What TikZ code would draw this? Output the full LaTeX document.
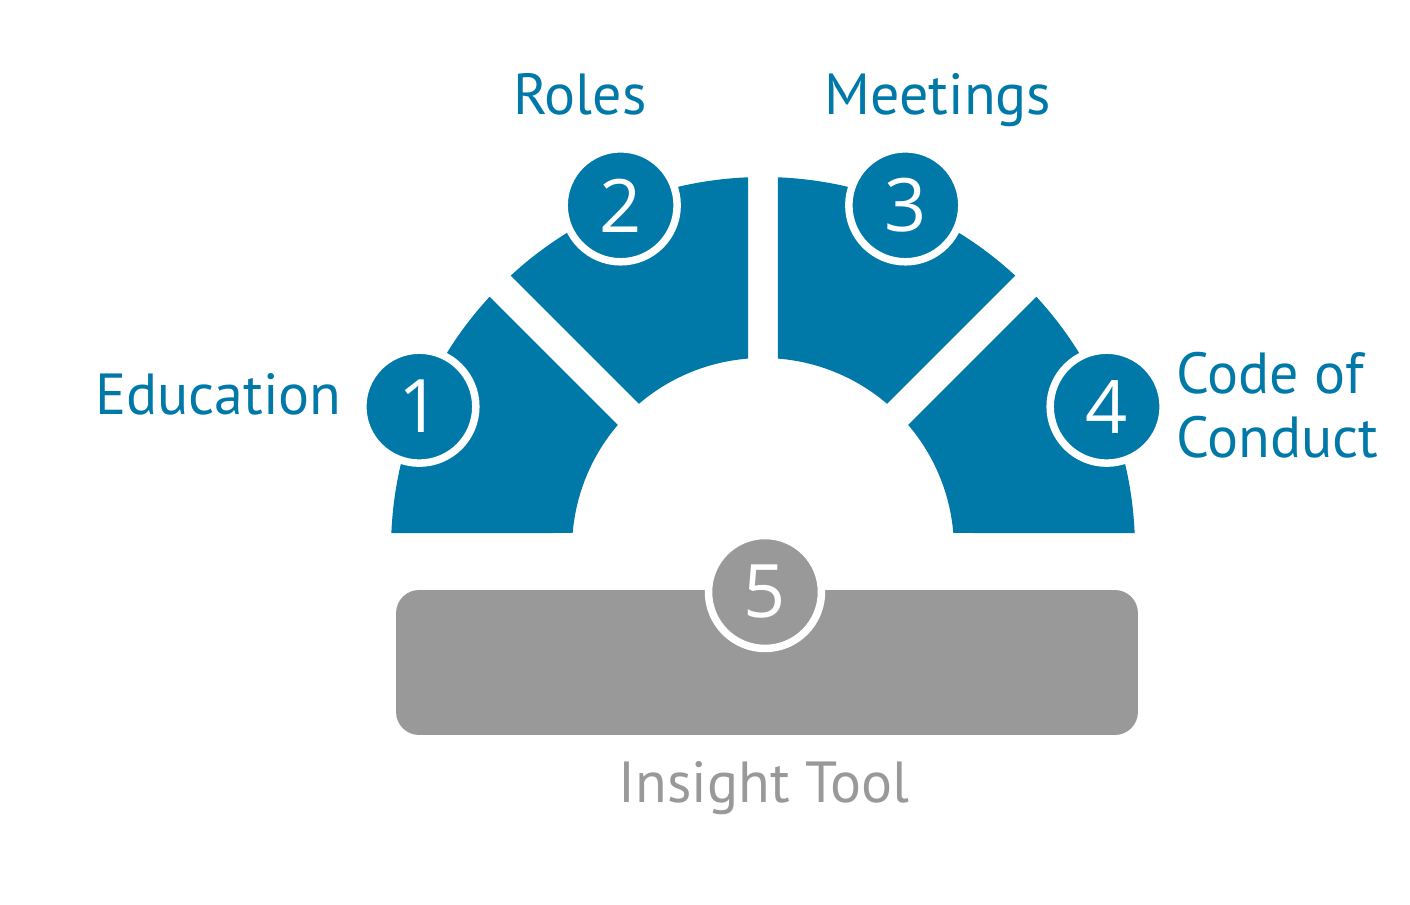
\documentclass[tikz,border=0pt]{standalone}
\usepackage{fontspec}
\setmainfont{PT Sans}
\newfontfamily\numfont{Open Sans}
\usetikzlibrary{positioning}

\definecolor{segblue}{HTML}{0079A9}
\definecolor{toolgray}{HTML}{999999}

\begin{document}
\begin{tikzpicture}[x=0.02cm,y=0.02cm,
    seg/.style={fill=segblue},
    num/.style={circle,fill=segblue,draw=white,line width=0.15cm,minimum size=2.26cm,
      inner sep=0pt,text=white,font=\numfont\fontsize{42}{42}\selectfont},
    lbl/.style={text=segblue,inner sep=0pt,font=\fontsize{33}{33}\selectfont},
    tool/.style={fill=toolgray,rounded corners=0.46cm,minimum width=14.84cm,minimum height=2.9cm}]
  \useasboundingbox (-763,-356) rectangle (647,549);

  % four quarter pieces of the half ring, outer radius 372, inner 191
  \foreach \lo/\hi/\hl/\hh in {0/45/16/15,45/90/15/15,90/135/15/15,135/180/15/16}
    \fill[seg] ({\lo+asin(\hl/372)}:372)
      arc[start angle={\lo+asin(\hl/372)},end angle={\hi-asin(\hh/372)},radius=372]
      -- ({\hi-asin(\hh/191)}:191)
      arc[start angle={\hi-asin(\hh/191)},end angle={\lo+asin(\hl/191)},radius=191]
      -- cycle;

  % base bar
  \node[tool] (bar) at (4,-113.5) {};

  % numbered badges
  \node[num] (n1) at (157.5:372) {1};
  \node[num] (n2) at (112.5:372) {2};
  \node[num] (n3) at (67.5:372) {3};
  \node[num] (n4) at (22.5:372) {4};
  \node[num,fill=toolgray] (n5) at (2,-43) {5};

  % labels
  \node[lbl,anchor=base] (roles) at (-183,434) {Roles};
  \node[lbl,anchor=base] (meetings) at (175,434) {Meetings};
  \node[lbl,anchor=base east] (education) at (-421,134) {Education};
  \node[lbl,anchor=base west] (code) at (413,155) {Code of};
  \node[lbl,anchor=base west] (conduct) at (413,91) {Conduct};
  \node[lbl,anchor=base,text=toolgray] (insight) at (1,-254) {Insight Tool};
\end{tikzpicture}
\end{document}
